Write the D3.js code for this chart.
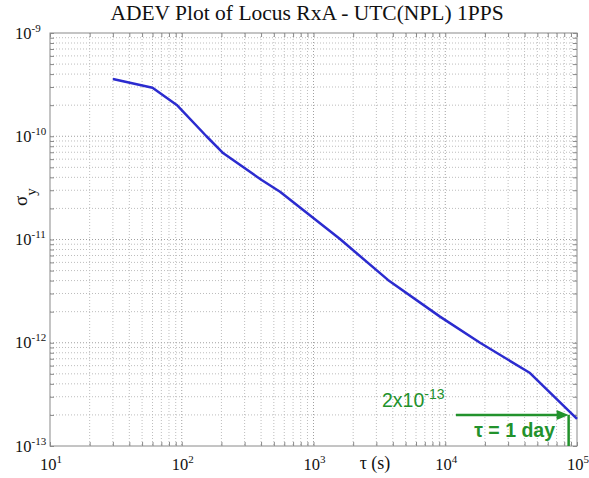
<!DOCTYPE html>
<html>
<head>
<meta charset="utf-8">
<script src="https://cdn.jsdelivr.net/npm/d3@7"></script>
<style>
  html, body { margin: 0; padding: 0; background: #fff; }
  svg { display: block; }
</style>
</head>
<body>
<svg id="chart" width="589" height="478"></svg>
<script>
// ---- data ----
const tau  = [30, 60, 91.6, 154, 207, 404, 557, 1589, 3673, 9120, 18370, 44000, 100000];
const adev = [3.58e-10, 2.95e-10, 2.01e-10, 1.0e-10, 6.84e-11, 3.77e-11, 2.90e-11, 1.01e-11, 4.06e-12, 1.79e-12, 1.0e-12, 5.09e-13, 1.83e-13];
const xDecades = [1e1, 1e2, 1e3, 1e4, 1e5];
const xExp = ["1", "2", "3", "4", "5"];
const yDecades = [1e-9, 1e-10, 1e-11, 1e-12, 1e-13];
const yExp = ["-9", "-10", "-11", "-12", "-13"];
const markTau = 86400;      // 1 day
const markSigma = 2e-13;
const titleText = "ADEV Plot of Locus RxA - UTC(NPL) 1PPS";

// ---- layout ----
const L = 50, R = 577, T = 33, B = 446;
const svg = d3.select("#chart");
const x = d3.scaleLog().domain([1e1, 1e5]).range([L, R]);
const y = d3.scaleLog().domain([1e-13, 1e-9]).range([B, T]);

function logTicks(lo, hi) {
  const out = [];
  for (let e = Math.round(Math.log10(lo)); e < Math.round(Math.log10(hi)); e++) {
    for (let m = 1; m <= 9; m++) out.push(m * Math.pow(10, e));
  }
  out.push(hi);
  return out;
}
const xAll = logTicks(1e1, 1e5);
const yAll = logTicks(1e-13, 1e-9);
const isMajor = v => Math.abs(Math.log10(v) - Math.round(Math.log10(v))) < 1e-9;

// ---- grid ----
const grid = svg.append("g");
grid.selectAll(".gx").data(xAll.filter(v => v > 1e1 && v < 1e5)).enter().append("line")
  .attr("x1", d => x(d)).attr("x2", d => x(d)).attr("y1", T).attr("y2", B)
  .attr("stroke", d => isMajor(d) ? "#a0a0a0" : "#bdbdbd")
  .attr("stroke-width", 1).attr("stroke-dasharray", "1,2");
grid.selectAll(".gy").data(yAll.filter(v => v > 1e-13 && v < 1e-9)).enter().append("line")
  .attr("y1", d => y(d)).attr("y2", d => y(d)).attr("x1", L).attr("x2", R)
  .attr("stroke", d => isMajor(d) ? "#a0a0a0" : "#bdbdbd")
  .attr("stroke-width", 1).attr("stroke-dasharray", "1,2");

// ---- axes (inward ticks on all sides) ----
const axisColor = "#8a8a8a";
function styleAxis(g) {
  g.select(".domain").remove();
  g.selectAll(".tick line").attr("stroke", axisColor);
  g.selectAll(".tick text").remove();
}
svg.append("g").attr("transform", `translate(0,${B})`)
  .call(d3.axisBottom(x).tickValues(xAll).tickSizeInner(-4).tickSizeOuter(0)).call(styleAxis);
svg.append("g").attr("transform", `translate(0,${T})`)
  .call(d3.axisTop(x).tickValues(xAll).tickSizeInner(-4).tickSizeOuter(0)).call(styleAxis);
svg.append("g").attr("transform", `translate(${L},0)`)
  .call(d3.axisLeft(y).tickValues(yAll).tickSizeInner(-4).tickSizeOuter(0)).call(styleAxis);
svg.append("g").attr("transform", `translate(${R},0)`)
  .call(d3.axisRight(y).tickValues(yAll).tickSizeInner(-4).tickSizeOuter(0)).call(styleAxis);

svg.append("rect").attr("x", L).attr("y", T).attr("width", R - L).attr("height", B - T)
  .attr("fill", "none").attr("stroke", axisColor).attr("stroke-width", 1);

// ---- tick labels ----
const serif = "'Liberation Serif', 'Times New Roman', serif";
xDecades.forEach((v, i) => {
  const t = svg.append("text").attr("x", x(v) + 1).attr("y", B + 24)
    .attr("text-anchor", "middle").attr("font-family", serif).attr("font-size", 16.5).attr("fill", "#111");
  t.append("tspan").text("10");
  t.append("tspan").attr("font-size", 11).attr("dy", -7).text(xExp[i]);
});
yDecades.forEach((v, i) => {
  const t = svg.append("text").attr("x", 15).attr("y", y(v) + 5.5)
    .attr("text-anchor", "start").attr("font-family", serif).attr("font-size", 16.5).attr("fill", "#111");
  t.append("tspan").text("10");
  t.append("tspan").attr("font-size", 11).attr("dy", -7).text(yExp[i]);
});

// ---- title and axis labels ----
svg.append("text").attr("x", 307).attr("y", 20).attr("text-anchor", "middle")
  .attr("font-family", serif).attr("font-size", 21.5).attr("fill", "#111").text(titleText);

svg.append("text").attr("x", 375).attr("y", 469).attr("text-anchor", "middle")
  .attr("font-family", serif).attr("font-size", 18).attr("fill", "#111").text("τ (s)");

const yl = svg.append("text").attr("transform", "translate(27,206) rotate(-90)")
  .attr("text-anchor", "start").attr("font-family", serif).attr("font-size", 19).attr("fill", "#111");
yl.append("tspan").text("σ");
yl.append("tspan").attr("font-size", 15).attr("dy", 9).text("y");

// ---- data line ----
const line = d3.line().x((d, i) => x(tau[i])).y((d, i) => y(adev[i]));
svg.append("path").datum(adev).attr("d", line)
  .attr("fill", "none").attr("stroke", "#2b2bcf").attr("stroke-width", 2.5)
  .attr("stroke-linejoin", "round");

// ---- annotation ----
const green = "#22922c";
const sans = "'Liberation Sans', Arial, sans-serif";
const ax = x(markTau), ay = y(markSigma);
svg.append("line").attr("x1", 456).attr("x2", ax - 9).attr("y1", ay).attr("y2", ay)
  .attr("stroke", green).attr("stroke-width", 2.5);
svg.append("path")
  .attr("d", `M${ax},${ay} L${ax - 12},${ay - 5} L${ax - 12},${ay + 5} Z`)
  .attr("fill", green);
svg.append("line").attr("x1", ax).attr("x2", ax).attr("y1", ay).attr("y2", B)
  .attr("stroke", green).attr("stroke-width", 2.5);

const t1 = svg.append("text").attr("x", 382).attr("y", 407)
  .attr("font-family", sans).attr("font-size", 19.5).attr("fill", green);
t1.append("tspan").text("2x10");
t1.append("tspan").attr("font-size", 14).attr("dy", -8).text("-13");

svg.append("text").attr("x", 555).attr("y", 437).attr("text-anchor", "end")
  .attr("font-family", sans).attr("font-size", 19.5).attr("font-weight", "bold")
  .attr("fill", green).text("τ = 1 day");
</script>
</body>
</html>
